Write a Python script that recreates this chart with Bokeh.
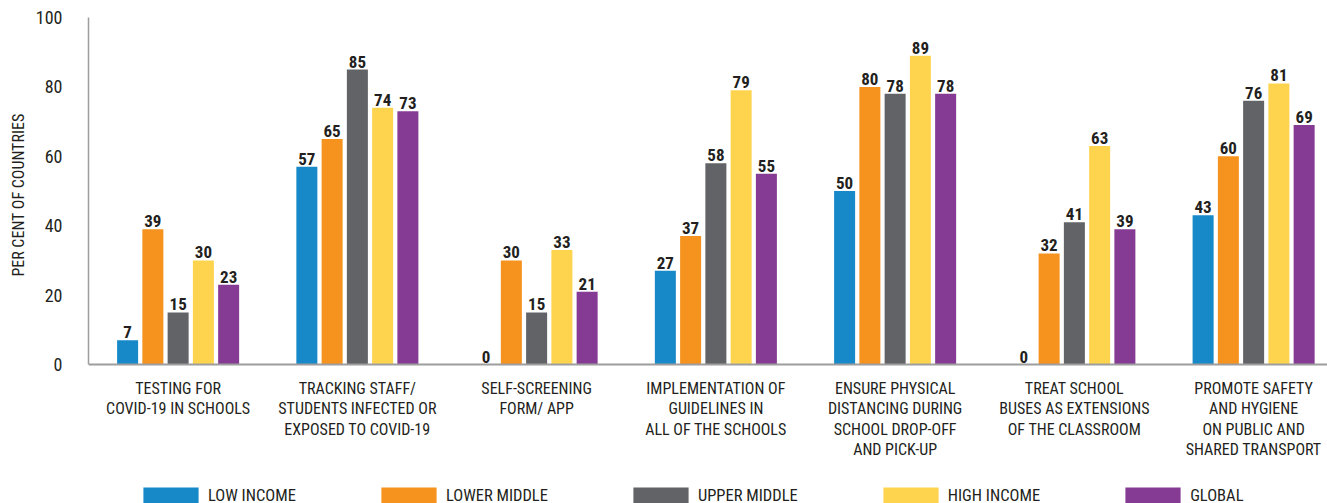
from bokeh.plotting import figure
from bokeh.models import (ColumnDataSource, Range1d, FixedTicker, Legend, LegendItem, Title)
from bokeh.core.properties import value
from bokeh.embed import file_html
from bokeh.resources import INLINE

categories = [
    "TESTING FOR\nCOVID-19 IN SCHOOLS",
    "TRACKING STAFF/\nSTUDENTS INFECTED OR\nEXPOSED TO COVID-19",
    "SELF-SCREENING\nFORM/ APP",
    "IMPLEMENTATION OF\nGUIDELINES IN\nALL OF THE SCHOOLS",
    "ENSURE PHYSICAL\nDISTANCING DURING\nSCHOOL DROP-OFF\nAND PICK-UP",
    "TREAT SCHOOL\nBUSES AS EXTENSIONS\nOF THE CLASSROOM",
    "PROMOTE SAFETY\nAND HYGIENE\nON PUBLIC AND\nSHARED TRANSPORT",
]
series_names = ["LOW INCOME", "LOWER MIDDLE", "UPPER MIDDLE", "HIGH INCOME", "GLOBAL"]
low_income = [7, 57, 0, 27, 50, 0, 43]
lower_middle = [39, 65, 30, 37, 80, 32, 60]
upper_middle = [15, 85, 15, 58, 78, 41, 76]
high_income = [30, 74, 33, 79, 89, 63, 81]
global_vals = [23, 73, 21, 55, 78, 39, 69]
y_ticks = [0, 20, 40, 60, 80, 100]
y_label = "PER CENT OF COUNTRIES"

series = [low_income, lower_middle, upper_middle, high_income, global_vals]
colors = ["#1789c8", "#f6931e", "#626366", "#fed44f", "#853b93"]

FONT = "Roboto Condensed, Roboto"
TXT = "#231f20"

W, H = 1327, 503
LEFT, TOP = 88, 17
PX_PER_UNIT = 3.47
GROUP_PX = 179.25
frame_h = H - TOP
y_start = 100 - frame_h / PX_PER_UNIT
x_end = (W - LEFT) / GROUP_PX

p = figure(width=W, height=H, output_backend="svg", toolbar_location=None,
           x_range=Range1d(0, x_end), y_range=Range1d(y_start, 100),
           min_border_left=LEFT, min_border_right=0, min_border_top=TOP,
           min_border_bottom=0, title=None)
p.outline_line_color = None
p.xgrid.visible = False
p.ygrid.visible = False
p.background_fill_color = "white"

centers = [i + 0.5 for i in range(len(categories))]
pitch = 0.1409
bw = 0.1172

items = []
for k, (vals, col, name) in enumerate(zip(series, colors, series_names)):
    xs = [c + (k - 2) * pitch for c in centers]
    src = ColumnDataSource(dict(x=xs, top=vals, lab=[str(v) for v in vals]))
    r = p.vbar(x="x", top="top", bottom=0, width=bw, source=src,
               fill_color=col, line_color=None)
    p.text(x="x", y="top", text="lab", source=src, text_align="center",
           text_baseline="alphabetic", y_offset=-8, text_font=value(FONT),
           text_font_style="bold", text_font_size="17px", text_color=TXT)
    items.append(LegendItem(label=name, renderers=[r]))

# x axis fixed at y = 0
xa = p.xaxis[0]
xa.fixed_location = 0
xa.ticker = FixedTicker(ticks=centers)
xa.major_label_overrides = {c: lab for c, lab in zip(centers, categories)}
xa.major_tick_line_color = None
xa.minor_tick_line_color = None
xa.axis_line_color = "#9d9d9d"
xa.axis_line_width = 2
xa.major_label_standoff = 8
xa.major_label_text_font = FONT
xa.major_label_text_font_size = "16px"
xa.major_label_text_line_height = 1.08
xa.major_label_text_color = TXT
xa.major_label_text_align = "center"

ya = p.yaxis[0]
ya.ticker = FixedTicker(ticks=y_ticks)
ya.bounds = (0, 100)
ya.major_tick_line_color = None
ya.minor_tick_line_color = None
ya.axis_line_color = "#9d9d9d"
ya.axis_line_width = 1.5
ya.major_label_standoff = 20
ya.major_label_text_font = FONT
ya.major_label_text_font_size = "18px"
ya.major_label_text_color = TXT

# y axis title, centred on the 0-100 span of the axis
ytitle = Title(text=y_label, align="right", offset=96, standoff=10,
               text_font=FONT, text_font_style="normal", text_font_size="16px",
               text_color=TXT)
p.add_layout(ytitle, "left")

legend = Legend(items=items, orientation="horizontal", location=(48, -2),
                glyph_width=69, glyph_height=20, label_standoff=3, spacing=78,
                padding=0, margin=0, border_line_color=None,
                background_fill_alpha=0, label_text_font=FONT,
                label_text_font_size="16.5px", label_text_color=TXT)
p.add_layout(legend, "center")

open("out.html", "w").write(file_html(p, INLINE))
